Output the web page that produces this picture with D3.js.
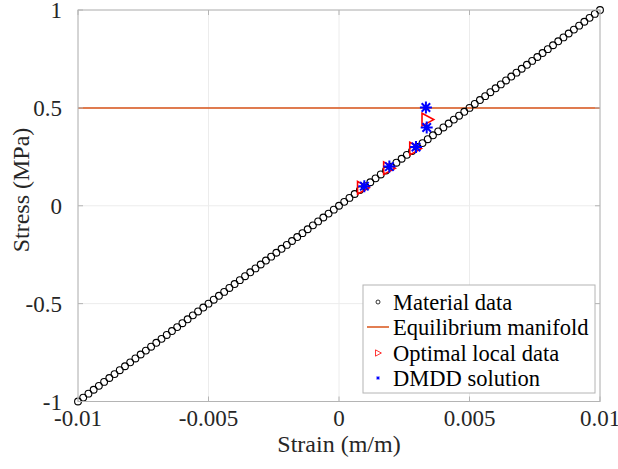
<!DOCTYPE html>
<html><head><meta charset="utf-8">
<style>
@font-face { font-family: "SerifX"; src: local("Liberation Serif"), local("LiberationSerif"), local("LiberationSerif-Regular"), local("Times New Roman"), local("Tinos"); }
body{margin:0}
</style>
<script src="https://cdn.jsdelivr.net/npm/d3@7"></script>
</head><body>
<svg id="c" width="618" height="469" style="display:block"></svg>
<script>
// ---- data ----
const materialStrain = [
-0.0100,-0.0098,-0.0096,-0.0094,-0.0092,-0.0090,-0.0088,-0.0086,-0.0084,-0.0082,
-0.0080,-0.0078,-0.0076,-0.0074,-0.0072,-0.0070,-0.0068,-0.0066,-0.0064,-0.0062,
-0.0060,-0.0058,-0.0056,-0.0054,-0.0052,-0.0050,-0.0048,-0.0046,-0.0044,-0.0042,
-0.0040,-0.0038,-0.0036,-0.0034,-0.0032,-0.0030,-0.0028,-0.0026,-0.0024,-0.0022,
-0.0020,-0.0018,-0.0016,-0.0014,-0.0012,-0.0010,-0.0008,-0.0006,-0.0004,-0.0002,
0.0000,0.0002,0.0004,0.0006,0.0008,0.0010,0.0012,0.0014,0.0016,0.0018,
0.0020,0.0022,0.0024,0.0026,0.0028,0.0030,0.0032,0.0034,0.0036,0.0038,
0.0040,0.0042,0.0044,0.0046,0.0048,0.0050,0.0052,0.0054,0.0056,0.0058,
0.0060,0.0062,0.0064,0.0066,0.0068,0.0070,0.0072,0.0074,0.0076,0.0078,
0.0080,0.0082,0.0084,0.0086,0.0088,0.0090,0.0092,0.0094,0.0096,0.0098,
0.0100];
const materialStress = [
-1.00,-0.98,-0.96,-0.94,-0.92,-0.90,-0.88,-0.86,-0.84,-0.82,
-0.80,-0.78,-0.76,-0.74,-0.72,-0.70,-0.68,-0.66,-0.64,-0.62,
-0.60,-0.58,-0.56,-0.54,-0.52,-0.50,-0.48,-0.46,-0.44,-0.42,
-0.40,-0.38,-0.36,-0.34,-0.32,-0.30,-0.28,-0.26,-0.24,-0.22,
-0.20,-0.18,-0.16,-0.14,-0.12,-0.10,-0.08,-0.06,-0.04,-0.02,
0.00,0.02,0.04,0.06,0.08,0.10,0.12,0.14,0.16,0.18,
0.20,0.22,0.24,0.26,0.28,0.30,0.32,0.34,0.36,0.38,
0.40,0.42,0.44,0.46,0.48,0.50,0.52,0.54,0.56,0.58,
0.60,0.62,0.64,0.66,0.68,0.70,0.72,0.74,0.76,0.78,
0.80,0.82,0.84,0.86,0.88,0.90,0.92,0.94,0.96,0.98,
1.00];
const equilibriumStrain = [-0.01, 0.01];
const equilibriumStress = [0.5, 0.5];
const optimalStrain = [0.0009, 0.0019, 0.0029, 0.00337];
const optimalStress = [0.092, 0.192, 0.292, 0.44];
const dmddStrain = [0.00097, 0.00193, 0.00295, 0.00333, 0.00336];
const dmddStress = [0.10, 0.20, 0.30, 0.502, 0.40];
const xTicks = [-0.01, -0.005, 0, 0.005, 0.01];
const xTickLabels = ["-0.01", "-0.005", "0", "0.005", "0.01"];
const yTicks = [-1, -0.5, 0, 0.5, 1];
const yTickLabels = ["-1", "-0.5", "0", "0.5", "1"];
const legendLabels = ["Material data", "Equilibrium manifold", "Optimal local data", "DMDD solution"];

// ---- drawing ----
const svg = d3.select("#c");
const L = 78, R = 600, T = 10, B = 401.5;
const x = d3.scaleLinear().domain([-0.01, 0.01]).range([L, R]);
const y = d3.scaleLinear().domain([-1, 1]).range([B, T]);
const axisCol = "#b4b4b4";
const FAM = '"Liberation Serif", "Times New Roman", Tinos, "SerifX", serif';
function serif(sel, size) {
  return sel.style("font-family", FAM).style("font-size", size + "px");
}

// text layer first (so font is resolved early)
const textLayer = svg.append("g").attr("id", "texts");

// grid
const grid = svg.append("g").attr("stroke", "#ececec");
grid.selectAll("line.gx").data(xTicks).join("line").attr("class", "gx")
  .attr("x1", d => x(d)).attr("x2", d => x(d)).attr("y1", T).attr("y2", B);
grid.selectAll("line.gy").data(yTicks).join("line").attr("class", "gy")
  .attr("x1", L).attr("x2", R).attr("y1", d => y(d)).attr("y2", d => y(d));

// equilibrium manifold
svg.append("path")
  .datum(equilibriumStrain.map((s, i) => [s, equilibriumStress[i]]))
  .attr("d", d3.line().x(d => x(d[0])).y(d => y(d[1])))
  .attr("fill", "none").attr("stroke", "#D95319").attr("stroke-width", 1.5);

// material data
svg.append("g").selectAll("circle")
  .data(materialStrain.map((s, i) => [s, materialStress[i]]))
  .join("circle")
  .attr("cx", d => x(d[0])).attr("cy", d => y(d[1])).attr("r", 3.4)
  .attr("fill", "none").attr("stroke", "#000").attr("stroke-width", 1.1);

// optimal local data (right-pointing triangles)
function triPath(s) { return `M${-s*0.55},${-s*0.7}L${s*0.75},0L${-s*0.55},${s*0.7}Z`; }
svg.append("g").selectAll("path")
  .data(optimalStrain.map((s, i) => [s, optimalStress[i]]))
  .join("path")
  .attr("transform", d => `translate(${x(d[0])},${y(d[1])})`)
  .attr("d", triPath(9))
  .attr("fill", "none").attr("stroke", "#ff0000").attr("stroke-width", 1.6);

// DMDD solution (asterisks)
function starPath(r) {
  const a = r * 0.7071;
  return `M${-r},0L${r},0M0,${-r}L0,${r}M${-a},${-a}L${a},${a}M${-a},${a}L${a},${-a}`;
}
svg.append("g").selectAll("path")
  .data(dmddStrain.map((s, i) => [s, dmddStress[i]]))
  .join("path")
  .attr("transform", d => `translate(${x(d[0])},${y(d[1])})`)
  .attr("d", starPath(6))
  .attr("fill", "none").attr("stroke", "#0000ff").attr("stroke-width", 2);

// box and small inner ticks
svg.append("rect").attr("x", L).attr("y", T).attr("width", R - L).attr("height", B - T)
  .attr("fill", "none").attr("stroke", axisCol).attr("stroke-width", 1);
const tk = svg.append("g").attr("stroke", axisCol);
xTicks.forEach(v => {
  tk.append("line").attr("x1", x(v)).attr("x2", x(v)).attr("y1", B).attr("y2", B - 5);
  tk.append("line").attr("x1", x(v)).attr("x2", x(v)).attr("y1", T).attr("y2", T + 5);
});
yTicks.forEach(v => {
  tk.append("line").attr("x1", L).attr("x2", L + 5).attr("y1", y(v)).attr("y2", y(v));
  tk.append("line").attr("x1", R).attr("x2", R - 5).attr("y1", y(v)).attr("y2", y(v));
});

// tick labels
serif(textLayer.selectAll("text.xt").data(xTicks).join("text").attr("class", "xt")
  .attr("x", d => x(d)).attr("y", 426).attr("text-anchor", "middle"), 23)
  .attr("fill", "#262626").text((d, i) => xTickLabels[i]);
serif(textLayer.selectAll("text.yt").data(yTicks).join("text").attr("class", "yt")
  .attr("x", 62).attr("y", d => y(d) + 8).attr("text-anchor", "end"), 23)
  .attr("fill", "#262626").text((d, i) => yTickLabels[i]);

// axis labels
serif(textLayer.append("text").attr("x", 339).attr("y", 452).attr("text-anchor", "middle"), 24)
  .attr("fill", "#262626").text("Strain (m/m)");
serif(textLayer.append("text").attr("transform", "translate(29,190) rotate(-90)").attr("text-anchor", "middle"), 24)
  .attr("fill", "#262626").text("Stress (MPa)");

// legend
const lg = svg.append("g");
lg.append("rect").attr("x", 363).attr("y", 285).attr("width", 232).attr("height", 108)
  .attr("fill", "#fff").attr("stroke", axisCol).attr("stroke-width", 1);
const rowY = [302, 327, 353, 378];
lg.append("circle").attr("cx", 378).attr("cy", rowY[0]).attr("r", 2)
  .attr("fill", "none").attr("stroke", "#000").attr("stroke-width", 0.8);
lg.append("line").attr("x1", 367).attr("x2", 389).attr("y1", rowY[1]).attr("y2", rowY[1])
  .attr("stroke", "#D95319").attr("stroke-width", 1.5);
lg.append("path").attr("transform", `translate(378,${rowY[2]})`).attr("d", triPath(4.5))
  .attr("fill", "none").attr("stroke", "#ff0000").attr("stroke-width", 0.8);
lg.append("path").attr("transform", `translate(378,${rowY[3]})`).attr("d", starPath(1.8))
  .attr("fill", "none").attr("stroke", "#0000ff").attr("stroke-width", 1);
serif(lg.selectAll("text.l").data(legendLabels).join("text").attr("class", "l")
  .attr("x", 393).attr("y", (d, i) => rowY[i] + 7.5), 22.5)
  .attr("fill", "#000").text(d => d);
</script>
</body></html>
